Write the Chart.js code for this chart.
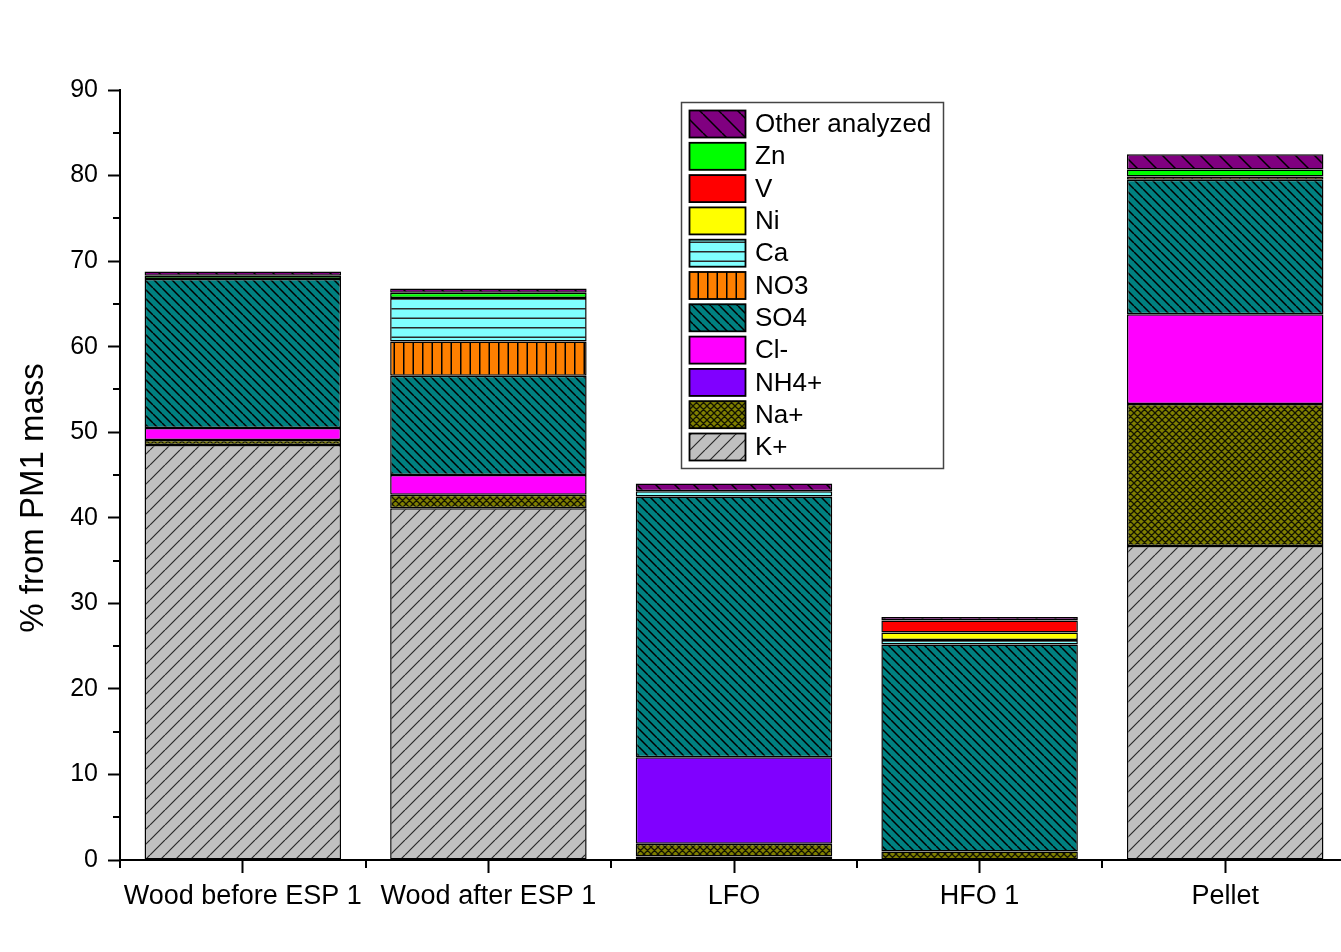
<!DOCTYPE html>
<html>
<head>
<meta charset="utf-8">
<script src="https://cdn.jsdelivr.net/npm/chart.js@4/dist/chart.umd.min.js"></script>
<style>
  html, body { margin: 0; padding: 0; background: #fff; overflow: hidden; }
  canvas { display: block; }
</style>
</head>
<body>
<canvas id="c" width="1360" height="952"></canvas>
<script>
// Sample categories
const categories = ['Wood before ESP 1', 'Wood after ESP 1', 'LFO', 'HFO 1', 'Pellet'];

// Component shares, % of PM1 mass (stacked bottom to top)
const kPlus   = [48.5, 41.1, 0.4, 0.0, 36.7];
const naPlus  = [0.6, 1.6, 1.5, 1.0, 16.6];
const nh4Plus = [0.0, 0.0, 10.1, 0.0, 0.0];
const clMinus = [1.4, 2.3, 0.0, 0.0, 10.5];
const so4     = [17.4, 11.6, 30.5, 24.2, 15.7];
const no3     = [0.0, 4.0, 0.0, 0.0, 0.4];
const ca      = [0.0, 5.1, 0.6, 0.5, 0.0];
const ni      = [0.0, 0.0, 0.0, 0.9, 0.0];
const v       = [0.0, 0.0, 0.0, 1.4, 0.0];
const zn      = [0.4, 0.6, 0.0, 0.0, 0.8];
const other   = [0.5, 0.5, 0.9, 0.4, 1.8];

// Axis range
const yMin = 0, yMax = 90, yStep = 10;
const yTitle = '% from PM1 mass';

const canvas = document.getElementById('c');
const mainCtx = canvas.getContext('2d');

// Build a repeating hatch fill
function hatch(bg, kind, size, lineColor, lineWidth, count) {
  const t = document.createElement('canvas');
  t.width = size; t.height = size;
  const g = t.getContext('2d');
  g.fillStyle = bg;
  g.fillRect(0, 0, size, size);
  g.strokeStyle = lineColor;
  g.lineWidth = lineWidth;
  g.beginPath();
  const n = count || 1;
  if (kind === 'fwd' || kind === 'cross') {
    for (const o of [-size, 0, size]) { g.moveTo(o, size); g.lineTo(o + size, 0); }
  }
  if (kind === 'back' || kind === 'cross') {
    for (const o of [-size, 0, size]) { g.moveTo(o, 0); g.lineTo(o + size, size); }
  }
  if (kind === 'vert') {
    for (let k = 0; k < n; k++) { const x = (k + 0.5) * size / n; g.moveTo(x, 0); g.lineTo(x, size); }
  }
  if (kind === 'horiz') {
    for (let k = 0; k < n; k++) { const y = (k + 0.5) * size / n; g.moveTo(0, y); g.lineTo(size, y); }
  }
  g.stroke();
  return mainCtx.createPattern(t, 'repeat');
}

const fills = {
  k:     hatch('#C0C0C0', 'fwd', 15, '#2a2a2a', 1.2),
  na:    hatch('#808000', 'cross', 7, '#141400', 1.3),
  nh4:   '#8000FF',
  cl:    '#FF00FF',
  so4:   hatch('#008080', 'back', 9, '#000', 1.5),
  no3:   hatch('#FF8000', 'vert', 19, '#000', 1.5, 2),
  ca:    hatch('#80FFFF', 'horiz', 19, '#2a2a2a', 1.4, 2),
  ni:    '#FFFF00',
  v:     '#FF0000',
  zn:    '#00FF00',
  other: hatch('#800080', 'back', 19, '#000', 1.5)
};

function series(label, data, fill) {
  return {
    label, data,
    backgroundColor: fill,
    borderColor: '#000',
    borderWidth: 1.5,
    borderSkipped: false,
    barPercentage: 0.8,
    categoryPercentage: 1.0
  };
}

const datasets = [
  series('K+', kPlus, fills.k),
  series('Na+', naPlus, fills.na),
  series('NH4+', nh4Plus, fills.nh4),
  series('Cl-', clMinus, fills.cl),
  series('SO4', so4, fills.so4),
  series('NO3', no3, fills.no3),
  series('Ca', ca, fills.ca),
  series('Ni', ni, fills.ni),
  series('V', v, fills.v),
  series('Zn', zn, fills.zn),
  series('Other analyzed', other, fills.other)
];

const FONT = '"Liberation Sans", Arial, sans-serif';

// Minor ticks between the labelled ones
const minorTicks = {
  id: 'minorTicks',
  afterDraw(chart) {
    const { ctx, chartArea } = chart;
    const ys = chart.scales.y, xs = chart.scales.x;
    ctx.save();
    ctx.strokeStyle = '#000';
    ctx.lineWidth = 2;
    ctx.beginPath();
    for (let val = yMin + yStep / 2; val < yMax; val += yStep) {
      const p = Math.round(ys.getPixelForValue(val));
      ctx.moveTo(chartArea.left - 7, p);
      ctx.lineTo(chartArea.left, p);
    }
    const n = categories.length;
    const step = xs.getPixelForValue(1) - xs.getPixelForValue(0);
    for (let i = 0; i <= n; i++) {
      const p = Math.round(xs.getPixelForValue(0) + (i - 0.5) * step);
      ctx.moveTo(p, chartArea.bottom);
      ctx.lineTo(p, chartArea.bottom + 8);
    }
    ctx.stroke();
    ctx.restore();
  }
};

// Rotated axis title
const axisTitle = {
  id: 'axisTitle',
  afterDraw(chart) {
    const ctx = chart.ctx;
    ctx.save();
    ctx.translate(34, 498);
    ctx.rotate(-Math.PI / 2);
    ctx.fillStyle = '#000';
    ctx.font = '33px ' + FONT;
    ctx.textAlign = 'center';
    ctx.textBaseline = 'middle';
    ctx.fillText(yTitle, 0, 0);
    ctx.restore();
  }
};

// Boxed legend inside the plot, top entry = top of stack
const legendBox = {
  id: 'legendBox',
  afterDraw(chart) {
    const ctx = chart.ctx;
    ctx.save();
    ctx.fillStyle = '#fff';
    ctx.fillRect(681, 102, 262, 366);
    ctx.strokeStyle = '#444';
    ctx.lineWidth = 1.5;
    ctx.strokeRect(681.5, 102.5, 262, 366);
    const items = chart.data.datasets.slice().reverse();
    items.forEach((d, i) => {
      const y = 110 + i * 32.3;
      ctx.fillStyle = d.backgroundColor;
      ctx.fillRect(689, y, 57, 28);
      ctx.strokeStyle = '#000';
      ctx.lineWidth = 1.8;
      ctx.strokeRect(689.5, y + 0.5, 56, 27);
      ctx.fillStyle = '#000';
      ctx.font = '26px ' + FONT;
      ctx.textAlign = 'left';
      ctx.textBaseline = 'middle';
      ctx.fillText(d.label, 755, y + 15);
    });
    ctx.restore();
  }
};

new Chart(canvas, {
  type: 'bar',
  data: { labels: categories, datasets },
  options: {
    responsive: false,
    animation: false,
    events: [],
    layout: { padding: { top: 90, right: 12, left: 0, bottom: 0 } },
    plugins: {
      legend: { display: false },
      tooltip: { enabled: false },
      title: { display: false }
    },
    scales: {
      x: {
        stacked: true,
        offset: true,
        grid: {
          offset: false,
          drawOnChartArea: false,
          drawTicks: true,
          tickLength: 13,
          tickWidth: 2,
          tickColor: '#000'
        },
        border: { display: true, color: '#000', width: 2 },
        ticks: {
          color: '#000',
          font: { family: FONT, size: 27 },
          padding: 7,
          maxRotation: 0,
          autoSkip: false
        },
        afterFit(scale) { scale.height = 92; }
      },
      y: {
        stacked: true,
        min: yMin,
        max: yMax,
        grid: {
          drawOnChartArea: false,
          drawTicks: true,
          tickLength: 12,
          tickWidth: 2,
          tickColor: '#000'
        },
        border: { display: true, color: '#000', width: 2 },
        ticks: {
          stepSize: yStep,
          color: '#000',
          font: { family: FONT, size: 25 },
          padding: 10
        },
        afterFit(scale) { scale.width = 120; }
      }
    }
  },
  plugins: [minorTicks, axisTitle, legendBox]
});
</script>
</body>
</html>
